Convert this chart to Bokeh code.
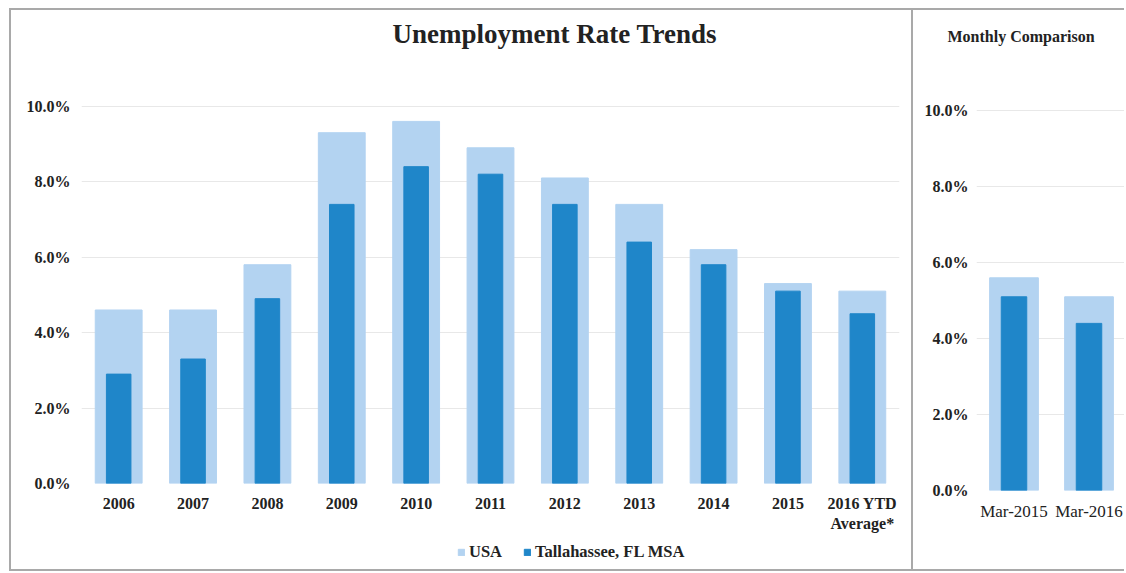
from bokeh.plotting import figure
from bokeh.models import (FactorRange, Range1d, PrintfTickFormatter, Legend,
                          LegendItem, Title)
from bokeh.layouts import row, column
from bokeh.embed import file_html
from bokeh.resources import INLINE

# ---- data ----
years = ["2006", "2007", "2008", "2009", "2010", "2011", "2012", "2013",
         "2014", "2015", "2016 YTD\nAverage*"]
usa_annual = [4.6, 4.6, 5.8, 9.3, 9.6, 8.9, 8.1, 7.4, 6.2, 5.3, 5.1]
tlh_annual = [2.9, 3.3, 4.9, 7.4, 8.4, 8.2, 7.4, 6.4, 5.8, 5.1, 4.5]

months = ["Mar-2015", "Mar-2016"]
usa_month = [5.6, 5.1]
tlh_month = [5.1, 4.4]

series_names = ["USA", "Tallahassee, FL MSA"]
y_ticks = [0, 2, 4, 6, 8, 10]

USA_COLOR = "#b3d3f1"
TLH_COLOR = "#1f86c9"
FONT = "Liberation Serif"
TEXT = "#222222"
GRID = "#e8e8e8"
BORDER = "#a9a9a9"


def style(p, x_bold, x_size, x_standoff, y_standoff):
    p.outline_line_color = None
    p.xgrid.grid_line_color = None
    p.ygrid.grid_line_color = GRID
    p.yaxis.ticker = y_ticks
    p.yaxis.formatter = PrintfTickFormatter(format="%.1f%%")
    for ax in (p.xaxis[0], p.yaxis[0]):
        ax.axis_line_color = None
        ax.major_tick_line_color = None
        ax.minor_tick_line_color = None
        ax.major_label_text_font = FONT
        ax.major_label_text_color = TEXT
    p.yaxis.major_label_text_font_size = "16px"
    p.yaxis.major_label_text_font_style = "bold"
    p.yaxis.major_label_standoff = y_standoff
    p.xaxis.major_label_text_font_size = x_size
    p.xaxis.major_label_text_font_style = "bold" if x_bold else "normal"
    p.xaxis.major_label_standoff = x_standoff
    p.xaxis.major_label_orientation = "horizontal"


# ---- left chart ----
p1 = figure(x_range=FactorRange(*years), y_range=Range1d(0, 11.4),
            width=900, height=530, output_backend="svg", toolbar_location=None,
            min_border_left=70, min_border_right=12, min_border_top=43,
            min_border_bottom=57)
p1.title = Title(text="Unemployment Rate Trends", align="left", offset=311,
                 text_font=FONT, text_font_size="27px", text_font_style="bold",
                 text_color=TEXT, standoff=10)
p1.vbar(x=years, top=usa_annual, width=0.63, color=USA_COLOR)
p1.vbar(x=years, top=tlh_annual, width=0.33, color=TLH_COLOR)
style(p1, True, "16px", 5, 5)

# ---- legend strip under the left chart (bars sit out of view; only the legend shows) ----
pleg = figure(width=900, height=29, output_backend="svg", toolbar_location=None,
              min_border=0, outline_line_color=None,
              x_range=FactorRange(*years), y_range=Range1d(50, 51))
pleg.axis.visible = False
pleg.grid.visible = False
lr_usa = pleg.vbar(x=years, top=usa_annual, width=0.63, color=USA_COLOR)
lr_tlh = pleg.vbar(x=years, top=tlh_annual, width=0.33, color=TLH_COLOR)
legend = Legend(items=[LegendItem(label=series_names[0], renderers=[lr_usa]),
                       LegendItem(label=series_names[1], renderers=[lr_tlh])],
                orientation="horizontal", location=(376, 7),
                glyph_width=8, glyph_height=8, label_standoff=4, spacing=21,
                label_text_font=FONT, label_text_font_size="16.5px",
                label_text_font_style="bold", label_text_color=TEXT,
                border_line_color=None, background_fill_alpha=0,
                padding=2, margin=0)
pleg.add_layout(legend)

# ---- right chart ----
p2 = figure(x_range=FactorRange(*months), y_range=Range1d(0, 11.4),
            width=213, height=559, output_backend="svg", toolbar_location=None,
            min_border_left=63, min_border_right=0, min_border_top=47,
            min_border_bottom=79, styles={"border-left": f"2px solid {BORDER}"})
p2.title = Title(text="Monthly Comparison", align="left", offset=-29,
                 text_font=FONT, text_font_size="16px", text_font_style="bold",
                 text_color=TEXT, standoff=26)
p2.vbar(x=months, top=usa_month, width=0.65, color=USA_COLOR)
p2.vbar(x=months, top=tlh_month, width=0.34, color=TLH_COLOR)
style(p2, False, "17px", 5, 2)

layout = row(column(p1, pleg), p2,
             styles={"border-top": f"2px solid {BORDER}",
                     "border-left": f"2px solid {BORDER}",
                     "border-bottom": f"2px solid {BORDER}",
                     "margin": "8px 0 0 9px"})

open("out.html", "w").write(file_html(layout, INLINE))
